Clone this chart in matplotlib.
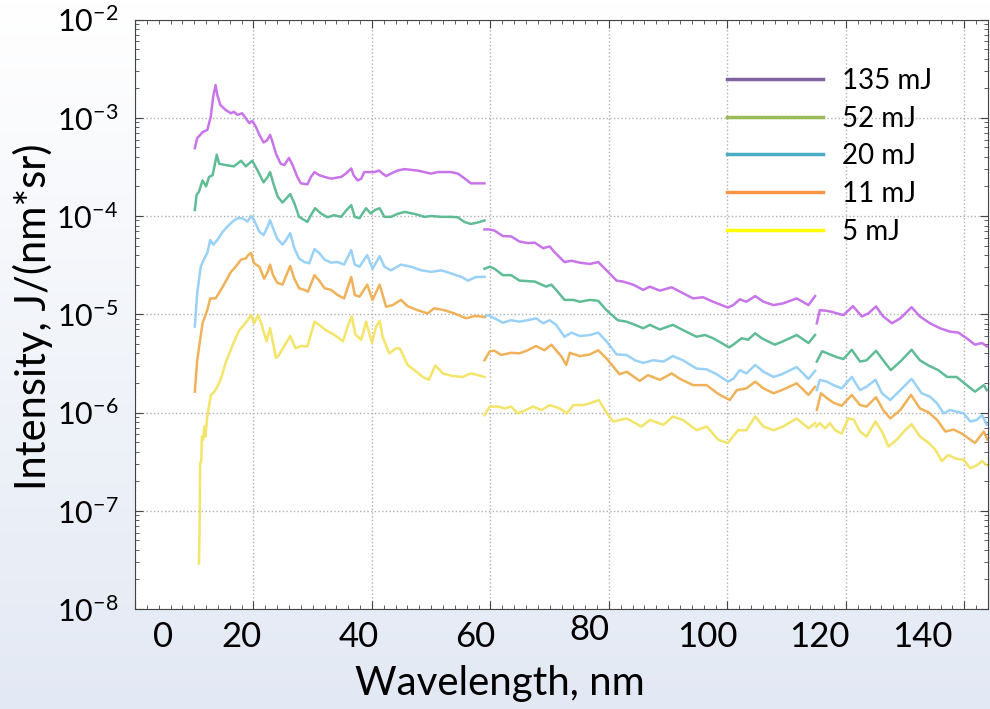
import numpy as np
import matplotlib
matplotlib.use('Agg')
import matplotlib.pyplot as plt
from matplotlib.lines import Line2D
from matplotlib.colors import LinearSegmentedColormap
from matplotlib.ticker import MultipleLocator, LogLocator, NullFormatter

plt.rcParams['font.family'] = ['Lato', 'DejaVu Sans']

nan = np.nan

# spectra, three spectrometer ranges per energy, separated by nan
wl_135 = [10.1, 10.5, 11.5, 12.2, 12.8, 13.2, 13.6, 13.9, 14.4, 15.3, 16.2, 16.7, 17.3, 18.1, 18.7,
          19.3, 19.8, 20.4, 21.0, 21.7, 22.3, 22.8, 23.2, 23.8, 24.6, 25.2, 26.0, 26.6, 27.4, 28.0,
          29.1, 29.7, 30.3, 31.1, 32.0, 33.1, 34.8, 35.6, 36.5, 36.9, 37.6, 38.2, 38.7, 39.8, 40.4,
          41.2, 41.8, 42.4, 43.2, 44.3, 45.5, 47.7, 50.0, 51.1, 53.4, 54.5, 55.3, 56.7, 57.9, 59.0, nan,
          59.0, 59.9, 60.7, 62.1, 63.5, 64.9, 66.3, 67.5, 68.9, 70.0, 70.8, 72.5, 73.7, 75.1, 76.8,
          78.2, 79.6, 81.3, 82.4, 84.1, 85.8, 86.9, 88.6, 90.6, 92.0, 94.2, 95.9, 97.6, 100.1, 101.0,
          102.1, 103.2, 104.7, 106.1, 107.8, 109.4, 111.7, 113.7, 114.8, nan,
          115.1, 115.6, 116.5, 117.6, 118.5, 119.6, 121.2, 122.7, 123.8, 125.1, 126.3, 127.8, 129.2,
          131.1, 132.5, 134.2, 135.9, 137.6, 139.0, 140.4, 141.8, 143.0, 143.8]
int_135 = [4.9e-4, 6.2e-4, 7.2e-4, 7.5e-4, 1.03e-3, 1.64e-3, 2.15e-3, 1.7e-3, 1.35e-3, 1.2e-3, 1.11e-3,
           1.15e-3, 1.07e-3, 1.11e-3, 9.9e-4, 8.8e-4, 9.3e-4, 8.1e-4, 6.7e-4, 5.6e-4, 5.9e-4, 6.7e-4,
           5.7e-4, 4.3e-4, 3.4e-4, 3.3e-4, 3.9e-4, 3.3e-4, 2.5e-4, 2.15e-4, 2.1e-4, 2.5e-4, 2.8e-4,
           2.6e-4, 2.5e-4, 2.4e-4, 2.5e-4, 2.7e-4, 3.05e-4, 2.6e-4, 2.3e-4, 2.4e-4, 2.8e-4, 2.8e-4,
           2.8e-4, 2.9e-4, 2.7e-4, 2.55e-4, 2.7e-4, 2.9e-4, 3.0e-4, 2.9e-4, 2.7e-4, 2.8e-4, 2.8e-4,
           2.7e-4, 2.5e-4, 2.15e-4, 2.15e-4, 2.15e-4, nan,
           7.3e-5, 7.3e-5, 7.1e-5, 6.25e-5, 6.2e-5, 5.5e-5, 5.3e-5, 5.35e-5, 4.7e-5, 4.9e-5, 4.3e-5,
           3.4e-5, 3.5e-5, 3.35e-5, 3.25e-5, 3.4e-5, 2.8e-5, 2.2e-5, 2.15e-5, 2.0e-5, 1.77e-5, 1.91e-5,
           1.74e-5, 1.88e-5, 1.7e-5, 1.45e-5, 1.49e-5, 1.34e-5, 1.17e-5, 1.24e-5, 1.42e-5, 1.34e-5,
           1.53e-5, 1.34e-5, 1.24e-5, 1.29e-5, 1.45e-5, 1.24e-5, 1.53e-5, nan,
           8.1e-6, 1.1e-5, 1.09e-5, 1.06e-5, 1.02e-5, 9.8e-6, 1.21e-5, 9.5e-6, 1.02e-5, 1.2e-5, 9.5e-6,
           8.1e-6, 9.1e-6, 1.18e-5, 9.5e-6, 8.1e-6, 7.2e-6, 6.65e-6, 6.5e-6, 5.7e-6, 4.9e-6, 5.1e-6, 4.7e-6]

wl_52 = [10.1, 10.4, 10.8, 11.4, 12.0, 12.5, 13.1, 13.5, 13.8, 14.2, 15.3, 16.7, 17.9, 18.7, 19.8,
         20.7, 21.7, 22.4, 22.8, 23.4, 24.1, 24.9, 26.2, 26.9, 27.7, 29.1, 29.7, 30.4, 31.4, 32.5,
         33.6, 34.8, 35.6, 36.5, 37.1, 37.9, 39.0, 39.8, 40.5, 41.3, 42.1, 43.2, 44.3, 45.5, 47.2,
         48.9, 50.0, 51.7, 53.4, 54.5, 55.6, 56.7, 57.9, 59.0, nan,
         59.0, 59.9, 60.7, 62.1, 63.5, 64.9, 67.5, 69.4, 70.3, 71.1, 72.5, 74.0, 75.1, 76.8, 78.2,
         79.6, 81.5, 83.0, 84.4, 85.8, 86.9, 88.6, 90.8, 92.5, 94.8, 96.2, 97.6, 100.3, 101.0, 102.4,
         103.5, 104.7, 105.8, 108.0, 109.4, 111.7, 113.7, 114.8, nan,
         115.1, 116.0, 117.1, 118.5, 119.6, 121.0, 122.4, 123.5, 125.1, 126.3, 127.6, 129.2, 131.1,
         132.5, 134.0, 135.6, 137.1, 138.7, 140.4, 141.8, 143.3, 143.8]
int_52 = [1.15e-4, 1.64e-4, 1.77e-4, 2.3e-4, 2.0e-4, 2.5e-4, 2.6e-4, 3.4e-4, 4.2e-4, 3.4e-4,
          3.3e-4, 3.2e-4, 3.65e-4, 3.2e-4, 3.65e-4, 2.9e-4, 2.2e-4, 2.5e-4, 2.8e-4, 2.1e-4,
          1.57e-4, 1.37e-4, 1.67e-4, 1.35e-4, 9.8e-5, 8.7e-5, 1.02e-4, 1.2e-4, 1.06e-4, 9.7e-5,
          1.02e-4, 9.8e-5, 1.13e-4, 1.29e-4, 9.8e-5, 9.5e-5, 1.2e-4, 1.06e-4, 1.15e-4, 1.2e-4,
          9.8e-5, 9.8e-5, 1.05e-4, 1.1e-4, 1.05e-4, 9.8e-5, 1.0e-4, 9.8e-5, 9.8e-5, 9.7e-5,
          8.7e-5, 8.3e-5, 8.6e-5, 9.0e-5, nan,
          2.9e-5, 3.05e-5, 2.9e-5, 2.5e-5, 2.5e-5, 2.2e-5, 2.15e-5, 1.91e-5, 2.0e-5, 1.77e-5,
          1.4e-5, 1.4e-5, 1.34e-5, 1.4e-5, 1.37e-5, 1.1e-5, 8.7e-6, 8.4e-6, 7.8e-6, 7.2e-6,
          7.8e-6, 7.0e-6, 7.8e-6, 6.9e-6, 5.9e-6, 6.15e-6, 5.7e-6, 4.6e-6, 4.9e-6, 5.7e-6,
          5.5e-6, 6.4e-6, 5.7e-6, 4.9e-6, 5.3e-6, 6.15e-6, 5.1e-6, 6.15e-6, nan,
          3.3e-6, 4.2e-6, 3.95e-6, 3.65e-6, 3.5e-6, 4.35e-6, 3.3e-6, 3.4e-6, 4.25e-6, 3.4e-6,
          2.7e-6, 3.3e-6, 4.35e-6, 3.4e-6, 3.0e-6, 2.7e-6, 2.3e-6, 2.3e-6, 1.9e-6, 1.63e-6,
          1.9e-6, 1.69e-6]

wl_20 = [10.1, 10.5, 11.1, 11.7, 12.2, 12.7, 13.2, 13.9, 14.8, 15.6, 16.5, 17.3, 18.1, 19.0, 19.6,
         20.1, 21.0, 21.7, 22.4, 22.8, 23.2, 24.0, 24.9, 25.5, 26.2, 26.9, 27.7, 28.6, 29.4, 30.3,
         31.1, 32.0, 33.1, 34.2, 35.3, 36.5, 37.1, 37.9, 39.2, 40.1, 41.3, 42.1, 43.2, 44.9, 46.6,
         48.3, 50.0, 51.7, 53.4, 55.1, 56.2, 57.6, 59.0, nan,
         59.0, 59.6, 60.7, 62.1, 63.5, 64.9, 66.3, 67.7, 68.9, 70.0, 71.1, 72.5, 73.7, 75.1, 76.8,
         78.2, 79.6, 81.3, 83.0, 84.4, 85.8, 87.5, 89.2, 90.8, 92.5, 94.8, 96.5, 98.2, 100.1, 101.0,
         102.1, 103.2, 104.7, 106.1, 107.8, 109.2, 111.7, 113.7, 114.8, nan,
         115.1, 115.6, 116.8, 117.9, 119.3, 121.0, 122.4, 123.5, 125.0, 126.1, 127.5, 129.2, 131.1,
         132.8, 134.2, 135.4, 136.5, 137.6, 138.7, 139.9, 141.0, 142.1, 143.0, 143.8]
int_20 = [7.5e-6, 1.63e-5, 3.05e-5, 3.7e-5, 4.2e-5, 5.7e-5, 5.1e-5, 5.7e-5, 6.9e-5, 7.8e-5,
          8.8e-5, 9.5e-5, 9.5e-5, 8.8e-5, 1.0e-4, 9.1e-5, 6.9e-5, 6.4e-5, 7.8e-5, 9.1e-5,
          7.8e-5, 5.9e-5, 5.1e-5, 5.7e-5, 6.7e-5, 4.7e-5, 3.7e-5, 3.4e-5, 3.3e-5, 4.6e-5,
          4.2e-5, 3.6e-5, 3.35e-5, 3.4e-5, 3.2e-5, 4.5e-5, 3.2e-5, 3.05e-5, 4.0e-5, 2.9e-5,
          3.9e-5, 3.05e-5, 2.8e-5, 3.2e-5, 3.05e-5, 2.8e-5, 2.7e-5, 2.8e-5, 2.6e-5, 2.4e-5,
          2.2e-5, 2.4e-5, 2.4e-5, nan,
          9.4e-6, 9.8e-6, 9.1e-6, 8.2e-6, 8.7e-6, 8.4e-6, 8.7e-6, 9.1e-6, 8.1e-6, 8.7e-6,
          7.8e-6, 5.9e-6, 6.5e-6, 6.0e-6, 6.15e-6, 6.5e-6, 5.3e-6, 3.9e-6, 3.85e-6, 3.4e-6,
          3.2e-6, 3.4e-6, 3.3e-6, 3.75e-6, 3.4e-6, 2.8e-6, 2.75e-6, 2.45e-6, 2.06e-6, 2.2e-6,
          2.7e-6, 2.5e-6, 3.05e-6, 2.6e-6, 2.3e-6, 2.45e-6, 2.9e-6, 2.2e-6, 2.65e-6, nan,
          1.69e-6, 2.15e-6, 2.06e-6, 1.9e-6, 1.76e-6, 2.3e-6, 1.69e-6, 1.83e-6, 2.15e-6, 1.57e-6,
          1.34e-6, 1.69e-6, 2.2e-6, 1.57e-6, 1.45e-6, 1.24e-6, 9.8e-7, 1.06e-6, 1.02e-6, 9.8e-7,
          8.1e-7, 8.4e-7, 9.4e-7, 7.5e-7]

wl_11 = [10.1, 10.5, 11.4, 12.2, 12.7, 13.6, 14.5, 15.3, 16.2, 17.0, 17.9, 18.7, 19.1, 19.6, 20.1,
         21.0, 21.8, 22.4, 22.8, 23.3, 24.0, 24.9, 26.2, 26.9, 27.7, 28.6, 29.2, 30.3, 31.1, 32.0,
         33.1, 34.2, 35.3, 36.5, 37.1, 37.9, 39.2, 40.1, 41.3, 42.4, 43.5, 44.9, 46.0, 47.7, 49.4,
         50.5, 52.2, 53.9, 55.9, 57.3, 59.0, nan,
         59.0, 59.9, 60.7, 61.8, 63.5, 64.9, 66.3, 67.7, 69.1, 70.3, 72.0, 72.8, 73.4, 75.1, 76.8,
         78.2, 79.6, 81.8, 83.0, 85.2, 86.6, 88.6, 90.6, 92.0, 94.2, 96.5, 98.5, 100.4, 101.6, 103.2,
         104.7, 106.1, 107.8, 109.2, 111.7, 113.7, 114.8, nan,
         115.1, 115.8, 116.8, 117.9, 119.3, 121.0, 122.4, 123.5, 125.1, 126.3, 127.5, 129.2, 131.0,
         132.5, 134.0, 135.4, 136.8, 138.2, 139.6, 141.0, 141.8, 143.3, 143.9]
int_11 = [1.63e-6, 3.4e-6, 8.1e-6, 1.1e-5, 1.45e-5, 1.45e-5, 1.77e-5, 2.15e-5, 2.7e-5, 3.05e-5,
          3.6e-5, 3.7e-5, 4.0e-5, 4.2e-5, 3.3e-5, 3.05e-5, 2.3e-5, 2.7e-5, 3.2e-5, 2.5e-5,
          2.1e-5, 2.0e-5, 3.1e-5, 2.3e-5, 1.84e-5, 1.77e-5, 1.7e-5, 2.5e-5, 2.2e-5, 1.84e-5,
          1.77e-5, 1.57e-5, 1.45e-5, 2.4e-5, 1.57e-5, 1.51e-5, 2.0e-5, 1.4e-5, 2.0e-5, 1.19e-5,
          1.24e-5, 1.4e-5, 1.21e-5, 1.1e-5, 1.02e-5, 1.15e-5, 1.1e-5, 1.02e-5, 9.1e-6, 9.6e-6,
          9.4e-6, nan,
          3.4e-6, 4.2e-6, 4.25e-6, 3.85e-6, 4.05e-6, 4.0e-6, 4.3e-6, 4.75e-6, 4.3e-6, 4.9e-6,
          3.7e-6, 3.05e-6, 4.05e-6, 3.75e-6, 3.9e-6, 4.3e-6, 3.55e-6, 2.45e-6, 2.6e-6, 2.1e-6,
          2.4e-6, 2.15e-6, 2.5e-6, 2.2e-6, 1.9e-6, 1.9e-6, 1.54e-6, 1.34e-6, 1.69e-6, 1.76e-6,
          2.06e-6, 1.76e-6, 1.57e-6, 1.69e-6, 1.98e-6, 1.51e-6, 1.83e-6, nan,
          1.06e-6, 1.57e-6, 1.4e-6, 1.26e-6, 1.17e-6, 1.51e-6, 1.19e-6, 1.15e-6, 1.43e-6, 1.06e-6,
          8.7e-7, 1.06e-6, 1.51e-6, 1.1e-6, 1.0e-6, 8.4e-7, 6.4e-7, 6.7e-7, 6.1e-7, 5.3e-7,
          4.9e-7, 6.4e-7, 5.3e-7]

wl_5 = [10.8, 10.9, 11.0, 11.2, 11.3, 11.5, 11.7, 11.9, 12.2, 12.8, 13.4, 13.9, 14.5, 15.3, 16.5,
        17.6, 18.4, 19.0, 19.6, 20.1, 20.8, 21.4, 22.2, 22.8, 23.2, 23.8, 24.3, 25.5, 26.2, 27.1,
        28.0, 29.1, 30.3, 31.1, 32.2, 33.6, 35.1, 35.9, 36.6, 37.2, 38.2, 39.0, 40.0, 40.7, 41.3,
        41.8, 42.9, 44.1, 44.7, 46.0, 47.5, 48.6, 49.6, 50.7, 52.0, 53.6, 55.3, 56.7, 57.9, 59.0, nan,
        59.0, 59.9, 61.3, 62.4, 63.5, 64.6, 66.0, 67.2, 68.6, 70.0, 71.7, 72.9, 74.0, 75.6, 76.8,
        78.3, 79.3, 80.7, 83.0, 85.5, 86.9, 89.2, 90.8, 92.5, 94.8, 96.5, 98.5, 100.1, 101.8, 103.2,
        104.7, 106.1, 107.8, 109.4, 111.7, 113.7, 114.8, nan,
        115.0, 115.6, 116.5, 117.3, 118.2, 119.3, 120.4, 121.3, 122.4, 123.5, 125.0, 126.1, 127.2,
        128.6, 130.0, 131.1, 132.5, 134.0, 135.1, 136.2, 137.3, 138.5, 139.9, 141.0, 142.1, 143.0, 143.8]
int_5 = [2.9e-8, 6.4e-8, 3.0e-7, 3.3e-7, 5.7e-7, 5.3e-7, 7.2e-7, 5.7e-7, 9.1e-7, 1.5e-6,
         1.63e-6, 1.83e-6, 2.2e-6, 3.2e-6, 4.9e-6, 6.9e-6, 7.8e-6, 8.7e-6, 9.8e-6, 8.1e-6,
         9.8e-6, 7.8e-6, 5.3e-6, 7.2e-6, 5.5e-6, 3.6e-6, 3.85e-6, 5.1e-6, 6.0e-6, 4.5e-6,
         4.75e-6, 4.7e-6, 8.4e-6, 7.8e-6, 6.9e-6, 6.2e-6, 5.3e-6, 7.5e-6, 9.5e-6, 6.2e-6,
         5.5e-6, 8.4e-6, 5.1e-6, 7.5e-6, 8.6e-6, 5.9e-6, 4.0e-6, 4.5e-6, 4.5e-6, 3.05e-6,
         2.6e-6, 2.3e-6, 2.15e-6, 3.0e-6, 2.5e-6, 2.35e-6, 2.3e-6, 2.5e-6, 2.4e-6, 2.3e-6, nan,
         9.4e-7, 1.15e-6, 1.15e-6, 1.1e-6, 1.15e-6, 9.8e-7, 1.06e-6, 1.15e-6, 1.06e-6, 1.19e-6,
         1.1e-6, 9.8e-7, 1.19e-6, 1.19e-6, 1.24e-6, 1.34e-6, 1.06e-6, 8.1e-7, 8.7e-7, 7.2e-7,
         8.4e-7, 7.5e-7, 9.1e-7, 8.4e-7, 6.6e-7, 7.2e-7, 5.25e-7, 4.9e-7, 6.6e-7, 6.6e-7,
         9.1e-7, 7.2e-7, 6.6e-7, 7.2e-7, 8.7e-7, 6.9e-7, 7.8e-7, nan,
         7.2e-7, 7.8e-7, 6.9e-7, 7.8e-7, 6.6e-7, 6.1e-7, 8.7e-7, 8.5e-7, 6.4e-7, 5.7e-7,
         8.1e-7, 6.4e-7, 4.5e-7, 5.3e-7, 6.6e-7, 7.6e-7, 5.7e-7, 4.9e-7, 4.2e-7, 3.2e-7,
         3.7e-7, 3.4e-7, 3.3e-7, 2.7e-7, 2.9e-7, 3.2e-7, 2.9e-7]

labels = ['135 mJ', '52 mJ', '20 mJ', '11 mJ', '5 mJ']
line_colors = ['#c266e8', '#4fb58c', '#8ecdf5', '#eeaa48', '#f2e15a']
legend_colors = ['#8064a2', '#9bbb59', '#4bacc6', '#f79646', '#ffff00']

xtick_text = ['0', '20', '40', '60', '80', '100', '120', '140']

fig = plt.figure(figsize=(9.9, 7.09), dpi=100)

# slide-like background gradient, white at the top to pale blue at the bottom
cmap = LinearSegmentedColormap.from_list('bg', ['#ffffff', '#e3e9f4'])
grad = cmap(np.linspace(0, 1, 709))[:, :3]
bg_img = np.repeat(grad[:, None, :], 990, axis=1)
fig.figimage(bg_img, 0, 0, origin='upper', zorder=-10)

ax = fig.add_axes([135 / 990, 1 - 609 / 709, 853 / 990, 589.5 / 709])
ax.set_facecolor('white')

series = [(wl_135, int_135), (wl_52, int_52), (wl_20, int_20), (wl_11, int_11), (wl_5, int_5)]
for (wl, inten), c in zip(series, line_colors):
    ax.plot(wl, inten, color=c, lw=1.8, alpha=0.9, solid_joinstyle='round')

ax.set_yscale('log')
ax.set_ylim(1e-8, 1e-2)
ax.set_xlim(0, 144)
ax.xaxis.set_major_locator(MultipleLocator(20))
ax.xaxis.set_minor_locator(MultipleLocator(2))
ax.yaxis.set_major_locator(LogLocator(base=10, numticks=10))
ax.yaxis.set_minor_locator(LogLocator(base=10, subs=np.arange(2, 10), numticks=10))
ax.yaxis.set_minor_formatter(NullFormatter())
ax.tick_params(which='both', direction='in', top=True, right=True, color='#444444')
ax.tick_params(which='major', length=6)
ax.tick_params(which='minor', length=3)
ax.tick_params(axis='x', labelbottom=False)
ax.tick_params(axis='y', labelsize=22, pad=12)
for s in ax.spines.values():
    s.set_color('#444444')
ax.grid(True, which='major', linestyle=':', color='#b0b0b0', lw=1)

# hand-placed wavelength labels as on the slide
xtick_pos = [4.7, 17.9, 37.7, 57.5, 76.8, 96.7, 115.6, 132.9]
xtick_y = [-0.048, -0.048, -0.048, -0.048, -0.036, -0.048, -0.048, -0.048]
for t, xp, yp in zip(xtick_text, xtick_pos, xtick_y):
    ax.text(xp, yp, t, transform=ax.get_xaxis_transform(), ha='center', va='center',
            fontsize=25)

fig.text(500 / 990, 1 - 683 / 709, 'Wavelength, nm', ha='center', va='center', fontsize=29)
fig.text(33 / 990, 1 - 317 / 709, 'Intensity, J/(nm*sr)', ha='center', va='center',
         rotation=90, fontsize=30)

handles = [Line2D([], [], color=c, lw=2.5) for c in legend_colors]
ax.legend(handles, labels, loc='upper left', bbox_to_anchor=(0.694, 0.918), frameon=False,
          fontsize=20, handlelength=3.45, handletextpad=0.7, labelspacing=0.42,
          borderaxespad=0, borderpad=0)

fig.savefig('out.png', dpi=100)
